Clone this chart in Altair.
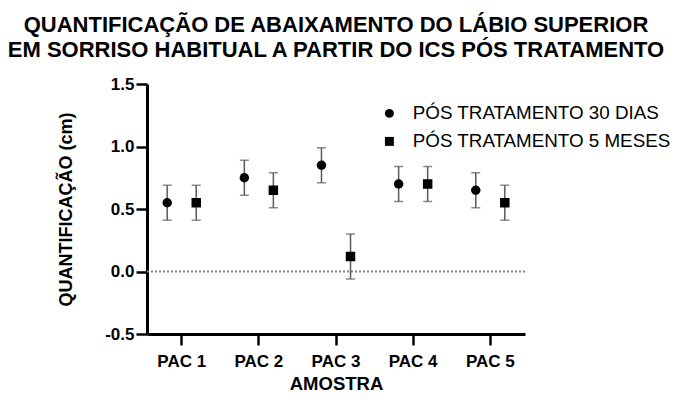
import altair as alt
import pandas as pd

pacientes = ["PAC 1", "PAC 2", "PAC 3", "PAC 4", "PAC 5"]
series = ["PÓS TRATAMENTO 30 DIAS", "PÓS TRATAMENTO 5 MESES"]
media_30_dias = [0.55, 0.75, 0.85, 0.70, 0.65]
erro_30_dias = [0.14, 0.14, 0.14, 0.14, 0.14]
media_5_meses = [0.55, 0.65, 0.12, 0.70, 0.55]
erro_5_meses = [0.14, 0.14, 0.18, 0.14, 0.14]

rows = []
for i, p in enumerate(pacientes):
    rows.append({"amostra": p, "serie": series[0], "media": media_30_dias[i],
                 "lo": media_30_dias[i] - erro_30_dias[i], "hi": media_30_dias[i] + erro_30_dias[i]})
    rows.append({"amostra": p, "serie": series[1], "media": media_5_meses[i],
                 "lo": media_5_meses[i] - erro_5_meses[i], "hi": media_5_meses[i] + erro_5_meses[i]})
df = pd.DataFrame(rows)

FONT = "Liberation Sans"

x_enc = alt.X("amostra:N", sort=pacientes,
              scale=alt.Scale(paddingInner=0.3, paddingOuter=0.1),
              axis=alt.Axis(title="AMOSTRA", labelAngle=0, labelPadding=8, titlePadding=5,
                            labelFontSize=17, titleFontSize=18.5))
xoff_enc = alt.XOffset("serie:N", sort=series, scale=alt.Scale(paddingOuter=0.03, paddingInner=0.2))
y_scale = alt.Scale(domain=[-0.5, 1.5], nice=False, zero=False)
y_enc = alt.Y("media:Q", scale=y_scale,
              axis=alt.Axis(title="QUANTIFICAÇÃO (cm)", values=[-0.5, 0, 0.5, 1.0, 1.5],
                            labelExpr="datum.value < 0 ? '-' + format(-datum.value, '.1f') : format(datum.value, '.1f')",
                            labelPadding=2, titlePadding=29, labelFontSize=17, titleFontSize=18))

base = alt.Chart(df)

zero = alt.Chart(pd.DataFrame({"v": [0]})).mark_rule(
    color="#808080", strokeDash=[2, 2], strokeWidth=2
).encode(y=alt.Y("v:Q", scale=y_scale))

bars = base.mark_rule(color="#5a5a5a", strokeWidth=1.5).encode(
    x=x_enc, xOffset=xoff_enc, y=alt.Y("lo:Q", scale=y_scale), y2="hi:Q")
cap_hi = base.mark_tick(color="#5a5a5a", thickness=1.5, size=9, orient="horizontal").encode(
    x=x_enc, xOffset=xoff_enc, y=alt.Y("hi:Q", scale=y_scale))
cap_lo = base.mark_tick(color="#5a5a5a", thickness=1.5, size=9, orient="horizontal").encode(
    x=x_enc, xOffset=xoff_enc, y=alt.Y("lo:Q", scale=y_scale))

pts = base.mark_point(filled=True, opacity=1, color="black").encode(
    x=x_enc, xOffset=xoff_enc, y=y_enc,
    shape=alt.Shape("serie:N", sort=series,
                    scale=alt.Scale(domain=series, range=["circle", "square"]),
                    legend=alt.Legend(title=None, orient="none", legendX=233, legendY=20,
                                      labelFont=FONT, labelFontSize=18.8, labelColor="black",
                                      symbolSize=80, symbolFillColor="black",
                                      symbolStrokeColor="black", rowPadding=8,
                                      labelOffset=14, labelLimit=400)),
    size=alt.value(90),
)

chart = alt.layer(zero, bars, cap_hi, cap_lo, pts).properties(
    width=378, height=250,
    padding={"left": 139, "top": 76, "right": 159, "bottom": 58},
    autosize=alt.AutoSizeParams(type="none"),
    title=alt.Title(["QUANTIFICAÇÃO DE ABAIXAMENTO DO LÁBIO SUPERIOR",
                     "EM SORRISO HABITUAL A PARTIR DO ICS PÓS TRATAMENTO"],
                    font=FONT, fontSize=22, fontWeight="bold", color="black",
                    anchor="middle", offset=13, lineHeight=25),
).configure_view(stroke=None).configure_axis(
    grid=False, domainColor="black", domainWidth=3, tickColor="black", tickWidth=2.5,
    tickSize=11, labelFont=FONT, labelFontWeight="bold", labelColor="black",
    titleFont=FONT, titleFontWeight="bold", titleColor="black",
)

chart.save("out.html", embed_options={"renderer": "svg", "actions": False})
